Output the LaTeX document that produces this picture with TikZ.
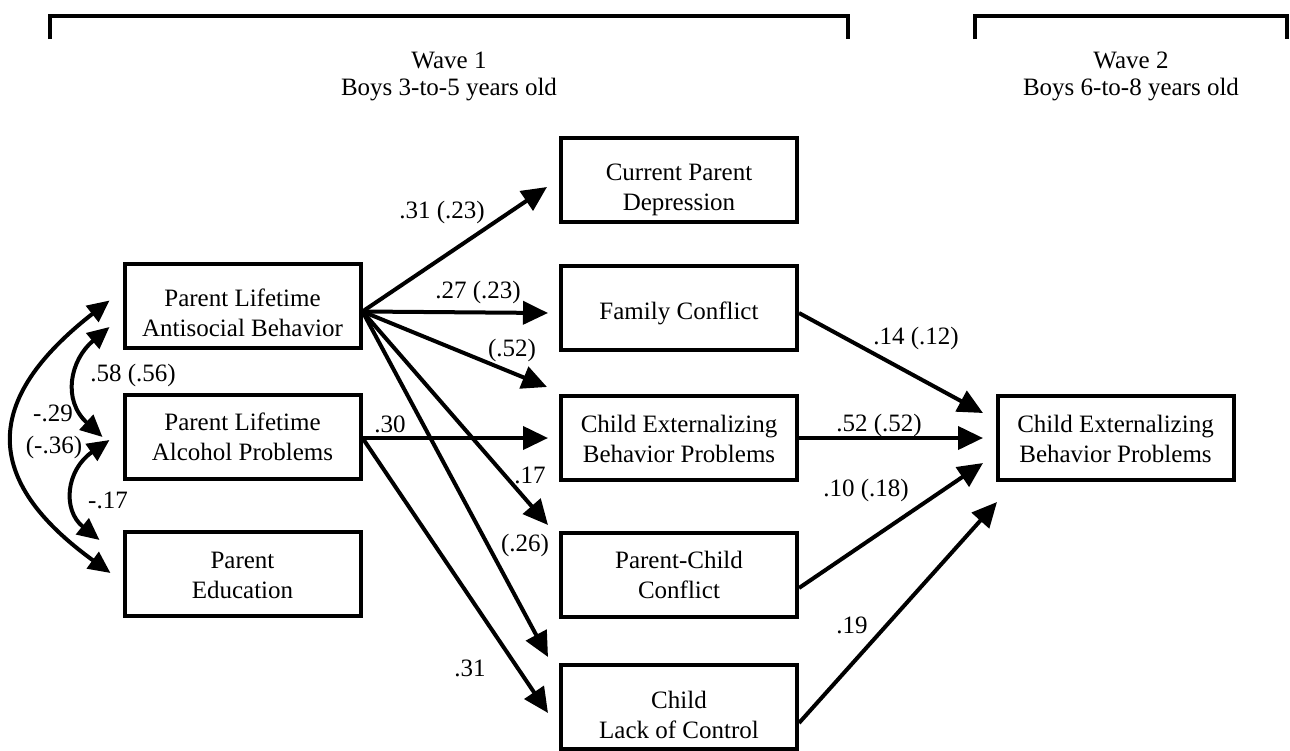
\documentclass[tikz,border=0pt]{standalone}
\usepackage{fontspec}
\setmainfont{Liberation Serif}
\usetikzlibrary{arrows.meta,calc}
\newcommand\boxtxt[2][-3pt]{\raisebox{#1}[\height][\depth]{\begin{tabular}{@{}c@{}}#2\end{tabular}}}
\begin{document}
\begin{tikzpicture}[x=1pt,y=-1pt,
  every node/.style={font=\fontsize{25}{30}\selectfont},
  box/.style={draw, line width=4pt, minimum width=236pt, minimum height=84pt, inner sep=0pt},
  lab/.style={inner sep=0pt},
  arr/.style={line width=4pt, -{Triangle[length=25pt,width=23pt]}},
  dbl/.style={line width=4pt, {Triangle[length=22pt,width=20pt]}-{Triangle[length=22pt,width=20pt]}},
  brk/.style={line width=4.5pt}
]
\useasboundingbox (0,0) rectangle (1290,750);

% wave brackets
\draw[brk] (50,39) -- (50,16) -- (848,16) -- (848,39);
\draw[brk] (975,39) -- (975,16) -- (1287,16) -- (1287,39);
\node[lab, anchor=base] (w1a) at (449,68) {Wave 1};
\node[lab, anchor=base] (w1b) at (449,95) {Boys 3-to-5 years old};
\node[lab, anchor=base] (w2a) at (1131,68) {Wave 2};
\node[lab, anchor=base] (w2b) at (1131,95) {Boys 6-to-8 years old};

% boxes
\node[box] (A) at (242.5,305.5) {\boxtxt[-10pt]{Parent Lifetime\\Antisocial Behavior}};
\node[box] (B) at (242.5,436.5) {\boxtxt{Parent Lifetime\\Alcohol Problems}};
\node[box] (C) at (242.5,574) {\boxtxt{Parent\\Education}};
\node[box] (D) at (679,179.5) {\boxtxt[-10pt]{Current Parent\\Depression}};
\node[box] (E) at (679,307.5) {\boxtxt[-6pt]{Family Conflict}};
\node[box] (F) at (679,438) {\boxtxt{Child Externalizing\\Behavior Problems}};
\node[box] (G) at (679,574.5) {\boxtxt{Parent-Child\\Conflict}};
\node[box] (H) at (679,707) {\boxtxt[-10pt]{Child\\Lack of Control}};
\node[box] (W) at (1115.5,438) {\boxtxt{Child Externalizing\\Behavior Problems}};

% paths from A
\draw[arr] ($(A.east)+(0,6)$) -- ($(D.west)+(-12,7.5)$);
\draw[arr] ($(A.east)+(0,6)$) -- ($(E.west)+(-11,5.5)$);
\draw[arr] ($(A.east)+(0,6)$) -- ($(F.west)+(-12,-51)$);
\draw[arr] ($(A.east)+(0,6)$) -- ($(G.west)+(-11,-49.5)$);
\draw[arr] ($(A.east)+(0,6)$) -- ($(H.west)+(-11,-50)$);
% paths from B
\draw[arr] ($(B.east)+(0,1.5)$) -- ($(F.west)+(-11,0)$);
\draw[arr] ($(B.east)+(0,1.5)$) -- ($(H.west)+(-11,6)$);
% paths to W
\draw[arr] ($(E.east)+(0,5.5)$) -- ($(W.west)+(-12.5,-25)$);
\draw[arr] (F.east) -- ($(W.west)+(-12.5,0)$);
\draw[arr] ($(G.east)+(0,13.5)$) -- ($(W.west)+(-12.5,25)$);
\draw[arr] ($(H.east)+(0,16)$) -- ($(W.west)+(1.5,64)$);

% correlations
\draw[dbl] ($(A.west)+(-13,-5)$) .. controls (-18,400) and (-18,480) .. ($(C.west)+(-12,-1)$);
\draw[dbl] ($(A.west)+(-13,21.5)$) .. controls (70,360) and (62,400) .. ($(B.west)+(-20,0.5)$);
\draw[dbl] ($(B.west)+(-13,3.5)$) .. controls (66,470) and (62,510) .. ($(C.west)+(-23,-34)$);

% labels
\node[lab] (l1) at (442,212) {.31 (.23)};
\node[lab] (l2) at (478,292) {.27 (.23)};
\node[lab] (l3) at (512,350) {(.52)};
\node[lab] (l4) at (390,424) {.30};
\node[lab] (l5) at (530,475) {.17};
\node[lab] (l6) at (525,545) {(.26)};
\node[lab] (l7) at (470,668) {.31};
\node[lab] (l8) at (133,375) {.58 (.56)};
\node[lab] (l9) at (53,413) {-.29};
\node[lab] (l10) at (54,447) {(-.36)};
\node[lab] (l11) at (108,500) {-.17};
\node[lab] (l12) at (916,338) {.14 (.12)};
\node[lab] (l13) at (879,425) {.52 (.52)};
\node[lab] (l14) at (866,490) {.10 (.18)};
\node[lab] (l15) at (852,625) {.19};
\end{tikzpicture}
\end{document}
